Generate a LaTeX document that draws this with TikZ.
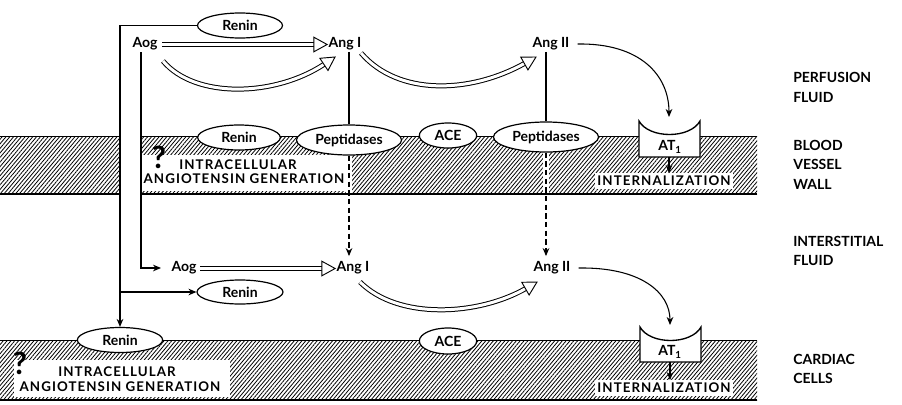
\documentclass[tikz,border=0pt]{standalone}
\usepackage{fontspec}
\setmainfont{Lato}
\newfontfamily\spacedfont{Lato}[LetterSpace=8]
\usetikzlibrary{shapes.geometric,arrows.meta,patterns.meta,decorations.markings,calc}
\tikzset{
  lbl/.style={font=\fontsize{10.5}{12}\selectfont\bfseries, inner sep=1pt},
  side/.style={font=\fontsize{10.5}{14.6}\selectfont\bfseries, align=left, anchor=west, inner sep=0pt},
  caps/.style={font=\spacedfont\fontsize{10}{11}\selectfont\bfseries, inner sep=0pt, align=center},
  ell/.style={ellipse, draw, fill=white, line width=0.9pt, inner sep=0pt,
              font=\fontsize{10.5}{12}\selectfont\bfseries},
  hatch/.style={pattern={Lines[angle=50,distance=2.2pt,line width=0.6pt]}},
  arr/.style={-{Stealth[length=6pt,width=5pt]}, line width=0.8pt},
  shaft/.style={double=white, double distance=2.25pt, line width=0.75pt, shorten >=9.5pt},
  headdeco/.style={decorate, decoration={markings, mark=at position 1 with
      {\draw[fill=white,line width=0.7pt,line join=miter] (0pt,0pt) -- (-10pt,5.5pt) -- (-10pt,-5.5pt) -- cycle;}}},
  at1/.style={fill=white, draw, line width=1pt},
  intbox/.style={fill=white, inner sep=0pt, minimum width=103pt, minimum height=11.5pt,
                 font=\spacedfont\fontsize{10}{11}\selectfont\bfseries},
  qmark/.style={font=\fontsize{23}{23}\selectfont\bfseries, inner sep=0pt},
}
\newcommand\hollowarrow[1]{\draw[shaft] #1; \path[headdeco] #1;}
\begin{document}
\begin{tikzpicture}[x=0.75pt,y=-0.75pt]
\useasboundingbox (0,0) rectangle (902,404);

% ---------- bands ----------
\path[hatch] (0,136) rectangle (120,194);
\path[hatch] (140,136) rectangle (757,194);
\path[hatch] (0,340) rectangle (757,400);
% white areas inside the wall band
\fill[white] (141,155) rectangle (348,191);
\fill[white] (346,140) rectangle (352,194);
\fill[white] (543,140) rectangle (549,194);
\fill[white] (14,360) rectangle (230,397);
% band borders
\draw[line width=0.7pt] (0,136) -- (120,136) (140,136) -- (757,136);
\draw[line width=1.2pt] (0,194) -- (120,194) (140,194) -- (757,194);
\draw[line width=0.7pt] (0,340) -- (757,340);
\draw[line width=1.2pt] (0,400) -- (757,400);

% ---------- text nodes ----------
\node[lbl] (aogT)   at (145,44) {Aog};
\node[lbl] (angIT)  at (345,44) {Ang I};
\node[lbl] (angIIT) at (551,44) {Ang II};
\node[lbl] (aogM)   at (184,268) {Aog};
\node[lbl] (angIM)  at (353,268) {Ang I};
\node[lbl] (angIIM) at (552,268) {Ang II};

\coordinate (aogTv) at (141,52);
\coordinate (aogTe) at (162,44.5);
\coordinate (aogTc) at (163,61);
\coordinate (angITc) at (335,57);
\coordinate (angITd) at (361,53);
\coordinate (angIITc) at (536,57);
\coordinate (aogMe) at (200,268.5);
\coordinate (aogMw) at (161,268);
\coordinate (angIMc) at (360,282);
\coordinate (angIIMc) at (537,282);

% ---------- ellipses ----------
\node[ell, minimum width=63.75pt, minimum height=18.75pt] (renT) at (240,25.5) {Renin};
\node[ell, minimum width=64pt, minimum height=18.75pt] (renB) at (120,340) {Renin};
\node[ell, minimum width=64.5pt, minimum height=18pt] (renM) at (240,292) {Renin};
\node[ell, minimum width=62pt, minimum height=18.75pt] (renW) at (239,137.5) {Renin};
\node[ell, minimum width=78.75pt, minimum height=22.5pt] (pepL) at (349,140) {Peptidases};
\node[ell, minimum width=43pt, minimum height=18.75pt] (aceW) at (448,135.5) {ACE};
\node[ell, minimum width=78.75pt, minimum height=22.5pt] (pepR) at (546,137) {Peptidases};
\node[ell, minimum width=43pt, minimum height=19.5pt] (aceB) at (448,341) {ACE};

% ---------- connectors ----------
\draw[arr] (renT.west) -| (renB.north);
\draw[arr] (renB.north |- renM.west) -- (renM.west);
\draw[arr] (aogTv) |- (aogMw);
\draw[line width=0.8pt] (angIT.south -| pepL.north) -- (pepL.north);
\draw[line width=0.8pt] (angIIT.south -| pepR.north) -- (pepR.north);
\draw[arr, dash pattern=on 4pt off 2.5pt] (pepL.south) -- ([yshift=3pt]pepL.south |- angIM.north);
\draw[arr, dash pattern=on 4pt off 2.5pt] (pepR.south) -- ([yshift=3pt]pepR.south |- angIIM.north);

% hollow conversion arrows
\hollowarrow{(aogTe) -- (angIT.west |- aogTe)}
\hollowarrow{(aogTc) .. controls (195,99) and (275,97) .. (angITc)}
\hollowarrow{(angITd) .. controls (398,96) and (470,94) .. (angIITc)}
\hollowarrow{(aogMe) -- (angIM.west |- aogMe)}
\hollowarrow{(angIMc) .. controls (398,320) and (478,316) .. (angIIMc)}

% ---------- AT1 receptors ----------
\draw[at1] (639,121) -- (639,157) -- (700,157) -- (700,121) .. controls (690,139) and (649,139) .. cycle;
\node[lbl] (at1T) at (670,147) {AT\textsubscript{1}};
\coordinate (at1TTop) at (669,117);
\coordinate (at1TBot) at (669,157);
\node[intbox] (intT) at (664,181) {INTERNALIZATION};
\draw[arr] (at1TBot) -- (at1TBot |- intT.north);

\draw[at1] (640,327) -- (640,362) -- (701,362) -- (701,327) .. controls (691,345) and (650,345) .. cycle;
\node[lbl] (at1B) at (670,352) {AT\textsubscript{1}};
\coordinate (at1BTop) at (670,325);
\coordinate (at1BBot) at (670,362);
\node[intbox] (intB) at (664,388) {INTERNALIZATION};
\draw[arr] (at1BBot) -- (at1BBot |- intB.north);

\draw[arr] ([xshift=5pt]angIIT.east) .. controls (640,43) and (669,75) .. (at1TTop);
\draw[arr] ([xshift=5pt]angIIM.east) .. controls (640,267) and (670,292) .. (at1BTop);

% ---------- intracellular generation ----------
\node[qmark] (qT) at (159,157) {?};
\node[caps] (icT1) at (238,165) {INTRACELLULAR};
\node[caps] (icT2) at (244,179) {ANGIOTENSIN GENERATION};
\node[qmark] (qB) at (20,363) {?};
\node[caps] (icB1) at (117,372) {INTRACELLULAR};
\node[caps] (icB2) at (120,387) {ANGIOTENSIN GENERATION};

% ---------- compartment labels ----------
\node[side] (perf)  at (793,87.5)  {PERFUSION\\FLUID};
\node[side] (blood) at (793,164.5) {BLOOD\\VESSEL\\WALL};
\node[side] (inter) at (793,251)   {INTERSTITIAL\\FLUID};
\node[side] (card)  at (793,369)   {CARDIAC\\CELLS};
\end{tikzpicture}
\end{document}
